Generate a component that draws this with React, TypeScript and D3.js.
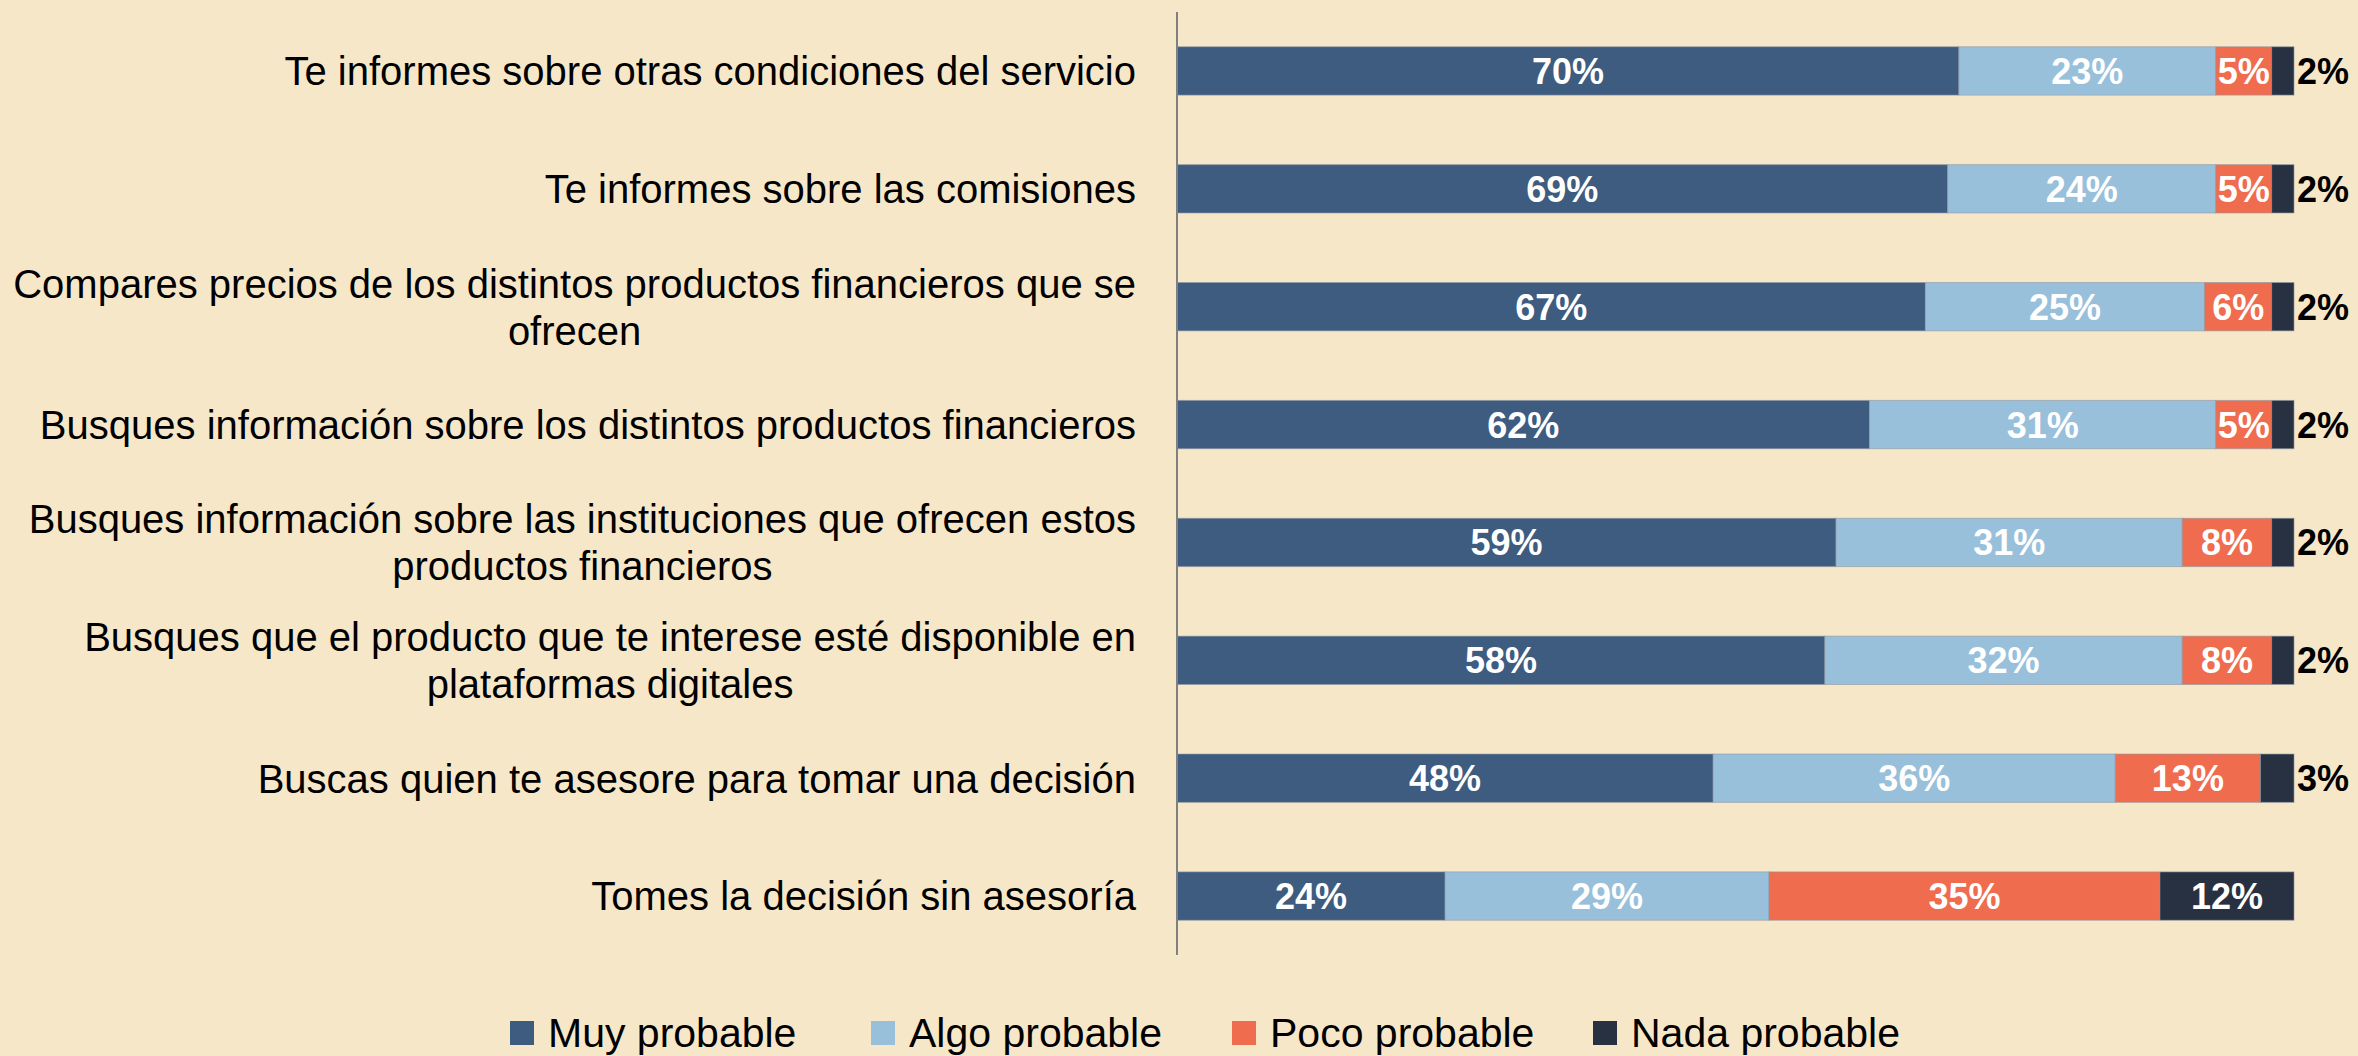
import { useEffect, useRef } from 'react';
import * as d3 from 'd3';

// categories, top to bottom
const categories: string[][] = [
  ['Te informes sobre otras condiciones del servicio'],
  ['Te informes sobre las comisiones'],
  ['Compares precios de los distintos productos financieros que se', 'ofrecen'],
  ['Busques información sobre los distintos productos financieros'],
  ['Busques información sobre las instituciones que ofrecen estos', 'productos financieros'],
  ['Busques que el producto que te interese esté disponible en', 'plataformas digitales'],
  ['Buscas quien te asesore para tomar una decisión'],
  ['Tomes la decisión sin asesoría'],
];

const seriesNames = ['Muy probable', 'Algo probable', 'Poco probable', 'Nada probable'];

const muy = [70, 69, 67, 62, 59, 58, 48, 24];
const algo = [23, 24, 25, 31, 31, 32, 36, 29];
const poco = [5, 5, 6, 5, 8, 8, 13, 35];
const nada = [2, 2, 2, 2, 2, 2, 3, 12];

const colors = ['#3e5b80', '#99c0da', '#ef6c4e', '#283141'];

const W = 2358;
const H = 1056;
const FONT = '"Liberation Sans", Arial, sans-serif';

const App = () => {
  const ref = useRef<SVGSVGElement | null>(null);

  useEffect(() => {
    const svg = d3.select(ref.current);
    svg.selectAll('*').remove();

    const rows = categories.map((c, i) => ({
      key: String(i),
      lines: c,
      values: [muy[i], algo[i], poco[i], nada[i]],
    }));

    const x = d3.scaleLinear().domain([0, 100]).range([1177, 2294]);
    const y = d3
      .scaleBand<string>()
      .domain(rows.map((r) => r.key))
      .range([12, 955])
      .paddingInner(0.59)
      .paddingOuter(0.295);

    svg.append('rect').attr('width', W).attr('height', H).attr('fill', '#f7e7c9');

    // bars
    const row = svg
      .append('g')
      .selectAll('g')
      .data(rows)
      .join('g')
      .attr('transform', (d) => `translate(0,${y(d.key)})`);

    row.each(function (d) {
      const g = d3.select(this);
      let acc = 0;
      d.values.forEach((v, j) => {
        const x0 = x(acc);
        const x1 = x(acc + v);
        acc += v;
        g.append('rect')
          .attr('x', x0)
          .attr('y', 0)
          .attr('width', x1 - x0)
          .attr('height', y.bandwidth())
          .attr('fill', colors[j])
          .attr('stroke', '#8d97a3')
          .attr('stroke-width', 1)
          .attr('stroke-opacity', 0.6);

        const inside = x1 - x0 > 45;
        g.append('text')
          .attr('x', inside ? (x0 + x1) / 2 : x1 + 3)
          .attr('y', y.bandwidth() / 2)
          .attr('dy', '0.36em')
          .attr('text-anchor', inside ? 'middle' : 'start')
          .attr('font-family', FONT)
          .attr('font-weight', 'bold')
          .attr('font-size', 36)
          .attr('fill', inside ? '#ffffff' : '#000000')
          .text(`${v}%`);
      });
    });

    // axis line
    svg
      .append('line')
      .attr('x1', 1177)
      .attr('x2', 1177)
      .attr('y1', 12)
      .attr('y2', 955)
      .attr('stroke', '#808080')
      .attr('stroke-width', 2);

    // category labels: right aligned, extra lines centred under the first
    const right = 1136;
    const lineH = 47;
    rows.forEach((r) => {
      const cy = (y(r.key) ?? 0) + y.bandwidth() / 2;
      const n = r.lines.length;
      const g = svg.append('g');
      const texts = r.lines.map((line, k) =>
        g
          .append('text')
          .attr('y', cy + (k - (n - 1) / 2) * lineH)
          .attr('dy', '0.36em')
          .attr('font-family', FONT)
          .attr('font-size', 40)
          .attr('fill', '#000')
          .text(line)
      );
      const widths = texts.map((t) => (t.node() as SVGTextElement).getComputedTextLength());
      const maxW = d3.max(widths) ?? 0;
      texts.forEach((t) => t.attr('text-anchor', 'middle').attr('x', right - maxW / 2));
    });

    // legend
    const lx = d3.scaleBand<string>().domain(seriesNames).range([510, 1954]);
    const leg = svg
      .append('g')
      .selectAll('g')
      .data(seriesNames)
      .join('g')
      .attr('transform', (d) => `translate(${lx(d)},1021)`);
    leg
      .append('rect')
      .attr('width', 24)
      .attr('height', 24)
      .attr('fill', (_d, i) => colors[i]);
    leg
      .append('text')
      .attr('x', 38)
      .attr('y', 26)
      .attr('font-family', FONT)
      .attr('font-size', 41)
      .attr('fill', '#000')
      .text((d) => d);
  }, []);

  return (
    <svg
      ref={ref}
      width={W}
      height={H}
      style={{ position: 'absolute', left: 0, top: 0, display: 'block' }}
    />
  );
};

export default App;
